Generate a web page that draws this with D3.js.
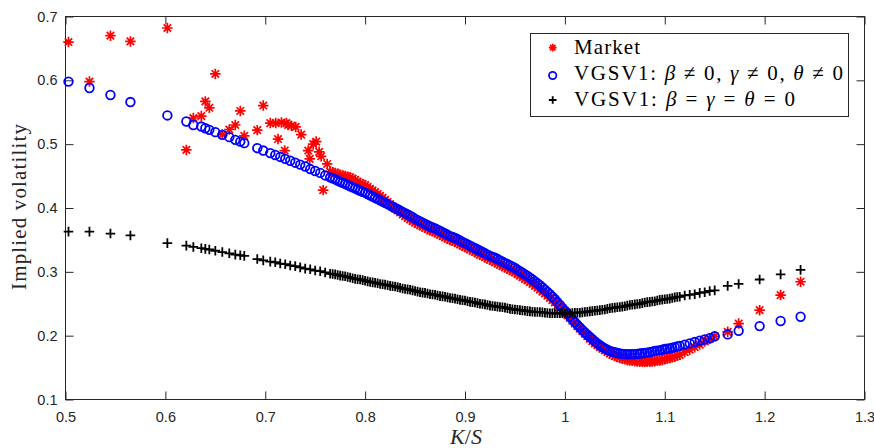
<!DOCTYPE html>
<html><head><meta charset="utf-8">
<script src="https://cdn.jsdelivr.net/npm/d3@7"></script>
<style>body{margin:0;background:#fff}svg{display:block}</style>
</head><body>
<svg id="c" width="874" height="448"></svg>
<script>
// ---- Data ----
const xTicks = [0.5,0.6,0.7,0.8,0.9,1.0,1.1,1.2,1.3];
const xTickLabels = ["0.5","0.6","0.7","0.8","0.9","1","1.1","1.2","1.3"];
const yTicks = [0.1,0.2,0.3,0.4,0.5,0.6,0.7];
const yTickLabels = ["0.1","0.2","0.3","0.4","0.5","0.6","0.7"];

// strike ratios K/S
const wingK = [0.503,0.524,0.545,0.565,0.602,0.621,0.628,0.636,0.640,0.644,0.650,0.657,0.664,0.670,0.675,0.679,0.692,0.698];
const nearK = [0.705,0.710,0.715,0.720,0.725,0.730,0.735,0.740,0.745,0.750,0.755,0.760];
const marketNearK = [0.705,0.7105,0.7128,0.7162,0.7195,0.7212,0.7228,0.7262,0.7305,0.736,0.743,0.7445,0.748,0.751,0.754,0.756,0.758,0.762];
const denseK = [
0.765,0.7675,0.770,0.7725,0.775,0.7775,0.780,0.7825,0.785,0.7875,0.790,0.7925,0.795,0.7975,0.800,0.8025,0.805,0.8075,0.810,0.8125,
0.815,0.8175,0.820,0.8225,0.825,0.8275,0.830,0.8325,0.835,0.8375,0.840,0.8425,0.845,0.8475,0.850,0.8525,0.855,0.8575,0.860,0.8625,
0.865,0.8675,0.870,0.8725,0.875,0.8775,0.880,0.8825,0.885,0.8875,0.890,0.8925,0.895,0.8975,0.900,0.9025,0.905,0.9075,0.910,0.9125,
0.915,0.9175,0.920,0.9225,0.925,0.9275,0.930,0.9325,0.935,0.9375,0.940,0.9425,0.945,0.9475,0.950,0.9525,0.955,0.9575,0.960,0.9625,
0.965,0.9675,0.970,0.9725,0.975,0.9775,0.980,0.9825,0.985,0.9875,0.990,0.9925,0.995,0.9975,1.000,1.0025,1.005,1.0075,1.010,1.0125,
1.015,1.0175,1.020,1.0225,1.025,1.0275,1.030,1.0325,1.035,1.0375,1.040,1.0425,1.045,1.0475,1.050,1.0525,1.055,1.0575,1.060,1.0625,
1.065,1.0675,1.070,1.0725,1.075,1.0775,1.080,1.0825,1.085,1.0875,1.090,1.0925,1.095,1.0975,1.100,1.1025,1.105,1.1075,1.110,1.1125,
1.115];
const rightK = [1.120,1.125,1.130,1.135,1.140,1.145,1.150,1.163,1.174,1.195,1.216,1.236];

// VGSV1 with beta, gamma, theta != 0 (blue circles)
const vgsvFull = [
0.598,0.588,0.577,0.566,0.545,0.5355,0.530,0.5276,0.525,0.5224,0.5188,0.5146,0.511,0.5068,0.504,0.5016,0.4937,0.490,
0.486,0.483,0.480,0.477,0.474,0.471,0.468,0.465,0.461,0.458,0.455,0.451,
0.448,0.4465,0.445,0.443,0.441,0.4395,0.438,0.436,0.434,0.4325,0.431,0.429,0.427,0.4255,0.424,0.422,0.420,0.418,0.416,0.414,
0.412,0.410,0.408,0.406,0.404,0.402,0.400,0.398,0.396,0.394,0.392,0.390,0.388,0.3855,0.383,0.381,0.379,0.377,0.375,0.373,
0.371,0.3695,0.368,0.366,0.364,0.362,0.360,0.358,0.356,0.3545,0.353,0.351,0.349,0.347,0.345,0.343,0.341,0.339,0.337,0.335,
0.333,0.331,0.329,0.327,0.325,0.3235,0.322,0.320,0.318,0.316,0.314,0.312,0.310,0.308,0.306,0.3035,0.301,0.2985,0.296,0.2935,
0.291,0.288,0.285,0.282,0.279,0.2755,0.272,0.2685,0.265,0.261,0.257,0.2525,0.248,0.2435,0.239,0.2345,0.230,0.2255,0.221,0.217,
0.213,0.209,0.205,0.2015,0.198,0.1945,0.191,0.188,0.185,0.1825,0.180,0.178,0.176,0.175,0.174,0.173,0.172,0.1715,0.171,0.171,
0.171,0.171,0.171,0.1715,0.172,0.1725,0.173,0.1735,0.174,0.175,0.176,0.1765,0.177,0.178,0.179,0.1795,0.180,0.181,0.182,0.183,
0.184,
0.186,0.188,0.190,0.192,0.194,0.196,0.199,0.202,0.2076,0.215,0.223,0.2296];

// VGSV1 with beta = gamma = theta = 0 (black plus)
const vgsvZero = [
0.363,0.363,0.360,0.357,0.345,0.341,0.339,0.337,0.336,0.335,0.333,0.331,0.329,0.327,0.326,0.325,0.320,0.318,
0.316,0.315,0.313,0.312,0.310,0.309,0.307,0.305,0.304,0.302,0.301,0.299,
0.297,0.2965,0.296,0.295,0.294,0.2935,0.293,0.292,0.291,0.290,0.289,0.2885,0.288,0.287,0.286,0.285,0.284,0.2835,0.283,0.282,
0.281,0.2805,0.280,0.279,0.278,0.2775,0.277,0.276,0.275,0.274,0.273,0.2725,0.272,0.271,0.270,0.269,0.268,0.2675,0.267,0.266,
0.265,0.2645,0.264,0.263,0.262,0.2615,0.261,0.260,0.259,0.2585,0.258,0.257,0.256,0.2555,0.255,0.254,0.253,0.2525,0.252,0.251,
0.250,0.2495,0.249,0.248,0.247,0.2465,0.246,0.2455,0.245,0.2445,0.244,0.243,0.242,0.2415,0.241,0.2405,0.240,0.2395,0.239,0.2385,
0.238,0.2375,0.237,0.237,0.237,0.2365,0.236,0.2355,0.235,0.235,0.235,0.235,0.235,0.235,0.235,0.235,0.235,0.2355,0.236,0.236,
0.236,0.2365,0.237,0.2375,0.238,0.2385,0.239,0.2395,0.240,0.2405,0.241,0.242,0.243,0.2435,0.244,0.2445,0.245,0.2455,0.246,0.247,
0.248,0.2485,0.249,0.2495,0.250,0.251,0.252,0.2525,0.253,0.2535,0.254,0.255,0.256,0.2565,0.257,0.2575,0.258,0.259,0.260,0.2605,
0.261,
0.263,0.264,0.265,0.267,0.268,0.270,0.271,0.278,0.281,0.288,0.296,0.303];

// Market implied volatility (red asterisks)
const marketIV = [
0.660,0.598,0.670,0.661,0.682,0.491,0.541,0.544,0.567,0.557,0.610,0.515,0.523,0.530,0.552,0.513,0.522,0.5605,
0.533,0.533,0.508,0.534,0.490,0.533,0.530,0.529,0.527,0.515,0.490,0.477,0.500,0.504,0.488,0.481,0.428,0.469,
0.457,0.456,0.455,0.4535,0.452,0.451,0.450,0.449,0.448,0.446,0.444,0.4415,0.439,0.4375,0.436,0.433,0.430,0.4275,0.425,0.422,
0.419,0.416,0.413,0.4095,0.406,0.4025,0.399,0.396,0.393,0.390,0.387,0.3845,0.382,0.3795,0.377,0.375,0.373,0.371,0.369,0.367,
0.365,0.3635,0.362,0.360,0.358,0.356,0.354,0.352,0.350,0.3485,0.347,0.345,0.343,0.341,0.339,0.337,0.335,0.333,0.331,0.329,
0.327,0.325,0.323,0.321,0.319,0.317,0.315,0.313,0.311,0.309,0.307,0.305,0.303,0.301,0.299,0.2965,0.294,0.2915,0.289,0.2865,
0.284,0.281,0.278,0.275,0.272,0.269,0.266,0.2625,0.259,0.2555,0.252,0.248,0.244,0.240,0.236,0.232,0.228,0.2235,0.219,0.215,
0.211,0.207,0.203,0.199,0.195,0.1915,0.188,0.185,0.182,0.1795,0.177,0.1745,0.172,0.170,0.168,0.1665,0.165,0.164,0.163,0.162,
0.161,0.1605,0.160,0.1595,0.159,0.159,0.159,0.159,0.159,0.1595,0.160,0.1605,0.161,0.162,0.163,0.164,0.165,0.166,0.167,0.1685,
0.170,
0.174,0.178,0.182,0.186,0.191,0.195,0.199,0.206,0.219,0.240,0.2636,0.2845];

const modelK = wingK.concat(nearK, denseK, rightK);
const marketK = wingK.concat(marketNearK, denseK, rightK);

// ---- Chart ----
const svg = d3.select("#c");
const axisColor = "#262626";
const x = d3.scaleLinear().domain([0.5,1.3]).range([65.5,864.5]);
const y = d3.scaleLinear().domain([0.1,0.7]).range([399.5,16.5]);

const plusType = {draw(ctx,size){const r=Math.sqrt(size)/2;ctx.moveTo(-r,0);ctx.lineTo(r,0);ctx.moveTo(0,-r);ctx.lineTo(0,r);}};
const starType = {draw(ctx,size){const r=Math.sqrt(size)/2;const d=r*Math.SQRT1_2;
  ctx.moveTo(-r,0);ctx.lineTo(r,0);ctx.moveTo(0,-r);ctx.lineTo(0,r);
  ctx.moveTo(-d,-d);ctx.lineTo(d,d);ctx.moveTo(-d,d);ctx.lineTo(d,-d);}};
const starSym = d3.symbol().type(starType).size(110);
const plusSym = d3.symbol().type(plusType).size(92);

const fontSans = "'Liberation Sans', Arial, Helvetica, sans-serif";
const fontSerif = "'Liberation Serif', 'Times New Roman', serif";

svg.append("rect").attr("x",65.5).attr("y",16.5).attr("width",799).attr("height",383)
  .attr("fill","#fff").attr("stroke",axisColor).attr("stroke-width",1);

function styleAxis(g){
  g.selectAll(".domain").remove();
  g.selectAll(".tick line").attr("stroke",axisColor).attr("stroke-width",1);
  g.selectAll(".tick text").attr("fill",axisColor).style("font-family",fontSans).style("font-size","14.5px");
}
svg.append("g").attr("transform","translate(0,399.5)")
  .call(d3.axisBottom(x).tickValues(xTicks).tickSize(-8).tickPadding(12).tickFormat((d,i)=>xTickLabels[i]))
  .call(styleAxis);
svg.append("g").attr("transform","translate(0,16.5)")
  .call(d3.axisTop(x).tickValues(xTicks).tickSize(-8).tickFormat(""))
  .call(styleAxis);
svg.append("g").attr("transform","translate(65.5,0)")
  .call(d3.axisLeft(y).tickValues(yTicks).tickSize(-8).tickPadding(8).tickFormat((d,i)=>yTickLabels[i]))
  .call(styleAxis);
svg.append("g").attr("transform","translate(864.5,0)")
  .call(d3.axisRight(y).tickValues(yTicks).tickSize(-8).tickFormat(""))
  .call(styleAxis);

const marketData = marketK.map((k,i)=>({k,v:marketIV[i]}));
const fullData = modelK.map((k,i)=>({k,v:vgsvFull[i]}));
const zeroData = modelK.map((k,i)=>({k,v:vgsvZero[i]}));

const plot = svg.append("g");
plot.append("g").selectAll("path").data(marketData).join("path")
  .attr("d",starSym).attr("transform",d=>`translate(${x(d.k)},${y(d.v)})`)
  .attr("fill","none").attr("stroke","#ff0000").attr("stroke-width",1.7);
plot.append("g").selectAll("circle").data(fullData).join("circle")
  .attr("cx",d=>x(d.k)).attr("cy",d=>y(d.v)).attr("r",4.3)
  .attr("fill","none").attr("stroke","#0000ff").attr("stroke-width",1.8);
plot.append("g").selectAll("path").data(zeroData).join("path")
  .attr("d",plusSym).attr("transform",d=>`translate(${x(d.k)},${y(d.v)})`)
  .attr("fill","none").attr("stroke","#000").attr("stroke-width",1.8);

// legend
const lg = svg.append("g");
lg.append("rect").attr("x",530.5).attr("y",33.5).attr("width",318).attr("height",83)
  .attr("fill","#fff").attr("stroke",axisColor).attr("stroke-width",1);
const mx = 552.7;
lg.append("path").attr("d",d3.symbol().type(starType).size(60)).attr("transform",`translate(${mx},47.7)`)
  .attr("fill","none").attr("stroke","#ff0000").attr("stroke-width",1.7);
lg.append("circle").attr("cx",mx).attr("cy",75.5).attr("r",3.7)
  .attr("fill","none").attr("stroke","#0000ff").attr("stroke-width",1.8);
lg.append("path").attr("d",d3.symbol().type(plusType).size(60)).attr("transform",`translate(${mx},100)`)
  .attr("fill","none").attr("stroke","#000").attr("stroke-width",1.8);

function legText(yb, parts, len){
  const t = lg.append("text").attr("x",574).attr("y",yb)
    .style("font-family",fontSerif).style("font-size","21px").attr("fill","#000")
    .attr("textLength",len).attr("lengthAdjust","spacing");
  parts.forEach(p=>{ t.append("tspan").text(p[0]).style("font-style",p[1]?"italic":"normal"); });
}
legText(54,[["Market",0]],66);
legText(80,[["VGSV1:  ",0],["β",1],[" ≠ 0,  ",0],["γ",1],[" ≠ 0,  ",0],["θ",1],[" ≠ 0",0]],269);
legText(106,[["VGSV1:  ",0],["β",1],[" = ",0],["γ",1],[" = ",0],["θ",1],[" = 0",0]],221);

svg.append("text").attr("transform","translate(26,207) rotate(-90)").attr("text-anchor","middle")
  .style("font-family",fontSerif).style("font-size","21px").attr("fill","#262626")
  .attr("textLength",166).attr("lengthAdjust","spacing").text("Implied volatility");
const xl = svg.append("text").attr("x",466).attr("y",444).attr("text-anchor","middle")
  .style("font-family",fontSerif).style("font-size","22px").attr("fill","#262626");
xl.append("tspan").text("K").style("font-style","italic");
xl.append("tspan").text("/");
xl.append("tspan").text("S").style("font-style","italic");
</script>
</body></html>
